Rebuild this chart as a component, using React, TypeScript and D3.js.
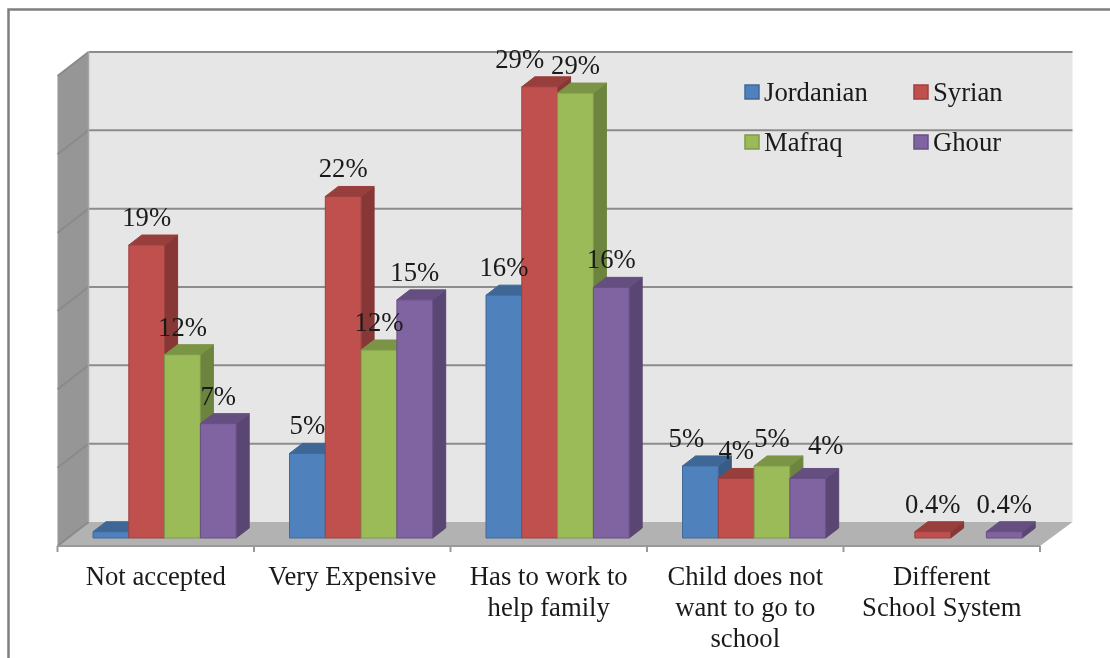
import React from 'react';
import * as d3 from 'd3';

const categories = [
  ['Not accepted'],
  ['Very Expensive'],
  ['Has to work to', 'help family'],
  ['Child does not', 'want to go to', 'school'],
  ['Different', 'School System'],
];
const seriesNames = ['Jordanian', 'Syrian', 'Mafraq', 'Ghour'];
const jordanian = [0.4, 5.4, 15.5, 4.6, 0];
const syrian = [18.7, 21.8, 28.8, 3.8, 0.4];
const mafraq = [11.7, 12.0, 28.4, 4.6, 0];
const ghour = [7.3, 15.2, 16, 3.8, 0.4];
const jordanianLabels = ['', '5%', '16%', '5%', ''];
const syrianLabels = ['19%', '22%', '29%', '4%', '0.4%'];
const mafraqLabels = ['12%', '12%', '29%', '5%', ''];
const ghourLabels = ['7%', '15%', '16%', '4%', '0.4%'];
const yTicks = [0, 5, 10, 15, 20, 25, 30];

// front, top and side shades per series
const colors = [
  { front: '#4f81bd', top: '#3e6796', side: '#375c86', edge: '#41699a' },
  { front: '#c0504d', top: '#983f3d', side: '#873836', edge: '#9d4240' },
  { front: '#9bbb59', top: '#7b9446', side: '#6d843e', edge: '#7f9a49' },
  { front: '#8064a2', top: '#654f80', side: '#5a4672', edge: '#694f86' },
];

const width = 1110;
const height = 658;
// front plane of the plot box
const plot = { left: 57.5, right: 1040, bottom: 546, top: 76 };
// offset from front plane to back wall
const depth = { x: 31, y: -24 };
// bar extrusion
const barDepth = { x: 13, y: -10 };
const barBase = 538;
const barWidth = 35.8;
const groupOffset = 35.5;

// hand moved data labels in the original [series, category, dx, dy]
const labelNudges: [number, number, number, number][] = [
  [1, 2, -20, 0],
  [0, 3, -14, 0],
  [3, 3, 18, -5],
];

export default function App() {
  const xBand = d3.scaleBand<number>()
    .domain(d3.range(categories.length))
    .range([plot.left, plot.right]);
  const yGrid = d3.scaleLinear().domain([0, 30]).range([plot.bottom, plot.top]);
  const yBar = d3.scaleLinear().domain([0, 30]).range([barBase, barBase - (plot.bottom - plot.top)]);

  const series = [jordanian, syrian, mafraq, ghour];
  const labels = [jordanianLabels, syrianLabels, mafraqLabels, ghourLabels];

  const barX = (c: number, s: number) => xBand(c)! + groupOffset + s * barWidth;

  const bars: React.ReactNode[] = [];
  series.forEach((values, s) => {
    values.forEach((v, c) => {
      if (v === 0) return;
      const x0 = barX(c, s);
      const x1 = x0 + barWidth;
      const y0 = yBar(v);
      const dx = barDepth.x;
      const dy = barDepth.y;
      const col = colors[s];
      bars.push(
        <g key={`${s}-${c}`} strokeWidth={1} stroke={col.edge} strokeLinejoin="round">
          <polygon points={`${x1},${y0} ${x1 + dx},${y0 + dy} ${x1 + dx},${barBase + dy} ${x1},${barBase}`} fill={col.side} stroke={col.side} />
          <polygon points={`${x0},${y0} ${x0 + dx},${y0 + dy} ${x1 + dx},${y0 + dy} ${x1},${y0}`} fill={col.top} stroke={col.top} />
          <rect x={x0} y={y0} width={barWidth} height={barBase - y0} fill={col.front} />
        </g>
      );
    });
  });

  const dataLabels: React.ReactNode[] = [];
  labels.forEach((row, s) => {
    row.forEach((text, c) => {
      if (!text) return;
      const nudge = labelNudges.find(n => n[0] === s && n[1] === c);
      dataLabels.push(
        <text
          key={`${s}-${c}`}
          x={barX(c, s) + barWidth / 2 + (nudge ? nudge[2] : 0)}
          y={yBar(series[s][c]) - 19 + (nudge ? nudge[3] : 0)}
          textAnchor="middle"
        >
          {text}
        </text>
      );
    });
  });

  const legendX = [745, 914];
  const legendY = [92, 142];

  return (
    <svg
      width={width}
      height={height}
      style={{ position: 'absolute', left: 0, top: 0, background: '#fff', filter: 'blur(0.45px)' }}
      fontFamily={'"Liberation Serif", serif'}
      fontSize={26.7}
      fill="#1a1a1a"
    >
      {/* outer chart frame, runs off the right and bottom of the picture */}
      <rect x={8.5} y={9.5} width={1140} height={700} fill="#fff" stroke="#7f7f7f" strokeWidth={2.5} />

      {/* back wall */}
      <rect
        x={plot.left + depth.x}
        y={plot.top + depth.y}
        width={plot.right - plot.left + 1.5}
        height={plot.bottom - plot.top}
        fill="#e6e6e6"
      />
      {/* side wall */}
      <polygon
        points={`${plot.left},${plot.top} ${plot.left + depth.x},${plot.top + depth.y} ${plot.left + depth.x},${plot.bottom + depth.y} ${plot.left},${plot.bottom}`}
        fill="#969696"
      />
      {/* floor */}
      <polygon
        points={`${plot.left},${plot.bottom} ${plot.left + depth.x},${plot.bottom + depth.y} ${plot.right + depth.x + 1.5},${plot.bottom + depth.y} ${plot.right},${plot.bottom}`}
        fill="#b2b2b2"
      />

      {/* gridlines */}
      {yTicks.map(t => (
        <g key={t} fill="none" strokeWidth={2}>
          <line x1={plot.left} y1={yGrid(t)} x2={plot.left + depth.x} y2={yGrid(t) + depth.y} stroke="#8a8a8a" />
          {t > 0 && (
            <line x1={plot.left + depth.x} y1={yGrid(t) + depth.y} x2={plot.right + depth.x + 1.5} y2={yGrid(t) + depth.y} stroke="#8c8c8c" />
          )}
        </g>
      ))}
      <line x1={plot.left + depth.x} x2={plot.left + depth.x} y1={plot.top + depth.y} y2={plot.bottom + depth.y} stroke="#a6a6a6" strokeWidth={1.5} />

      {/* category axis */}
      <line x1={plot.left} x2={plot.right} y1={plot.bottom} y2={plot.bottom} stroke="#999999" strokeWidth={2} />
      {d3.range(categories.length + 1).map(i => {
        const x = i < categories.length ? xBand(i)! : plot.right;
        return <line key={i} x1={x} x2={x} y1={plot.bottom} y2={plot.bottom + 6} stroke="#999999" strokeWidth={2} />;
      })}

      {bars}
      {dataLabels}

      {categories.map((lines, c) => (
        <text key={c} textAnchor="middle">
          {lines.map((line, i) => (
            <tspan key={i} x={xBand(c)! + xBand.bandwidth() / 2} y={585 + i * 31}>{line}</tspan>
          ))}
        </text>
      ))}

      {/* legend */}
      {seriesNames.map((name, s) => {
        const x = legendX[s % 2];
        const y = legendY[Math.floor(s / 2)];
        return (
          <g key={name}>
            <rect x={x} y={y - 7} width={14} height={14} fill={colors[s].front} stroke={colors[s].edge} strokeWidth={1.5} />
            <text x={x + 19} y={y + 9}>{name}</text>
          </g>
        );
      })}
    </svg>
  );
}
